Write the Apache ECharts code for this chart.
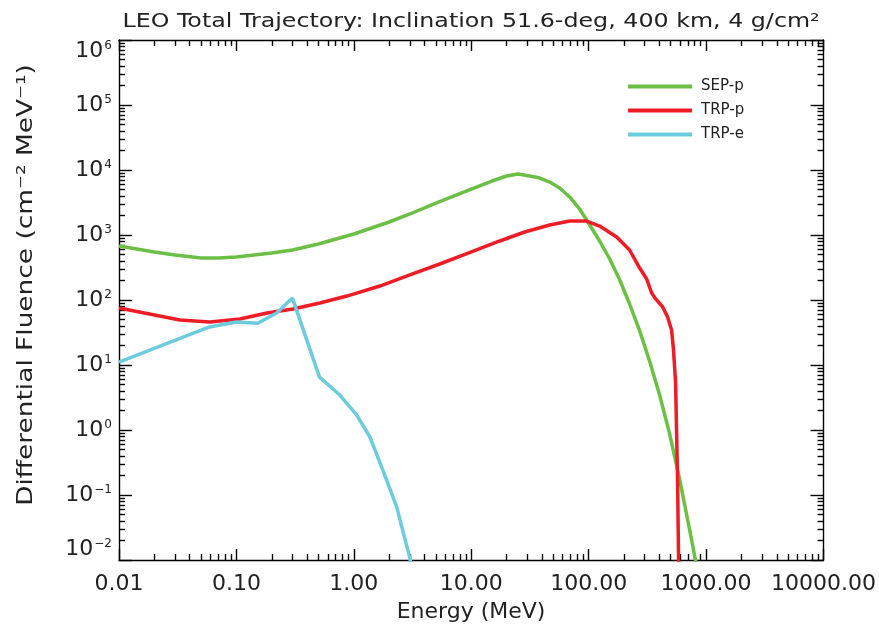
<!DOCTYPE html>
<html><head><meta charset="utf-8">
<script src="https://cdn.jsdelivr.net/npm/echarts@6/dist/echarts.min.js"></script>
<style>html,body{margin:0;padding:0;background:#fff}#c{width:879px;height:628px}</style>
</head><body><div id="c"></div>
<script>
// ---- data ----
const sepE = [0.01,0.02,0.03,0.05,0.07,0.1,0.2,0.3,0.5,1,2,3,5,10,15,20,25,31.5,38.3,46.6,56.6,68.9,83.8,102,124,151,184,223,272,330,402,489,595,724,847];
const sepF = [677,547,492,443,443,459,528,588,727,1035,1585,2105,3105,5100,6770,8090,8670,8090,7530,6530,5290,3850,2510,1425,809,427,203,86.8,33.4,11.5,3.45,0.87,0.176,0.029,0.0068];

const trpPE = [0.01,0.033,0.0595,0.107,0.182,0.303,0.514,0.872,1.665,3.0,5.39,9.9,17.5,28.5,46.6,68.9,96.2,124,173,223,272,312,344,372,427,470,508,528,550,561,572,583,595];
const trpPF = [75.3,49.2,45.9,51.0,63.1,72.7,89.9,115,164,243,358,547,809,1112,1425,1641,1641,1375,931,588,310,210,128,104,78,54.7,34.5,17.0,5.28,0.899,0.153,0.01,0.0049];

const trpEE = [0.01,0.059,0.10,0.152,0.22,0.30,0.51,0.76,1.06,1.37,1.77,2.32,3.0,3.2];
const trpEF = [11.1,38.5,46,44,63,107,6.5,3.45,1.7,0.78,0.24,0.065,0.0107,0.005];

const seriesNames = ['SEP-p','TRP-p','TRP-e'];
const xDecades = [-2,-1,0,1,2,3,4];        // major ticks (log10 of energy)
const yDecades = [-2,-1,0,1,2,3,4,5,6];    // major ticks (log10 of fluence)
const titleText = 'LEO Total Trajectory: Inclination 51.6-deg, 400 km, 4 g/cm\u00B2';
const xName = 'Energy (MeV)';
const yName = 'Differential Fluence (cm\u207B\u00B2 MeV\u207B\u00B9)';

// ---- helpers ----
function pairs(xs, ys){ return xs.map((x,i)=>[x, ys[i]]); }
function minorLogs(decs){ const out=[]; decs.slice(0,-1).forEach(d=>{ for(let k=2;k<=9;k++) out.push(d+Math.log10(k)); }); return out; }
const xMinor = minorLogs(xDecades);
const yMinor = minorLogs(yDecades);

const FONT = 'DejaVu Sans';
const TXT = '#222';
const AX = {color:'#000', width:1.4};
const colors = ['#6cbf45','#ee1c25','#6ccbdc'];

// decorative tick axes (in log10 space) on each side of the frame
function tickAxis(pos, lo, hi, vals, len, showLine){
  return {type:'value', min:lo, max:hi, position:pos,
    axisLine:{show:showLine, onZero:false, lineStyle:AX},
    axisTick:{show:true, inside:true, length:len, lineStyle:AX, customValues:vals},
    axisLabel:{show:false}, splitLine:{show:false}};
}

const chart = echarts.init(document.getElementById('c'), null, {renderer:'canvas'});
chart.setOption({
  animation:false,
  backgroundColor:'#fff',
  grid:{left:119, right:55, top:40, bottom:68, containLabel:false},
  legend:{
    orient:'vertical', left:623, top:74, itemWidth:64, itemHeight:4, itemGap:9,
    icon:'rect', data:seriesNames,
    textStyle:{fontFamily:FONT, fontSize:15, color:TXT, lineHeight:15, padding:[0,0,0,4]}
  },
  xAxis:[
    {type:'log', logBase:10, min:0.01, max:10000, interval:1, position:'bottom',
     axisLine:{show:true, onZero:false, lineStyle:AX}, axisTick:{show:false},
     axisLabel:{margin:13, fontSize:22, fontFamily:FONT, color:TXT, formatter:v=>Number(v).toFixed(2)},
     splitLine:{show:false}},
    tickAxis('bottom', -2, 4, xDecades, 11, false),
    tickAxis('bottom', -2, 4, xMinor, 6, false),
    tickAxis('top', -2, 4, xDecades, 11, true),
    tickAxis('top', -2, 4, xMinor, 6, false)
  ],
  yAxis:[
    {type:'log', logBase:10, min:0.01, max:1e6, interval:1, position:'left',
     axisLine:{show:true, onZero:false, lineStyle:AX}, axisTick:{show:false},
     axisLabel:{margin:7, fontFamily:FONT, color:TXT,
       verticalAlignMaxLabel:'top', verticalAlignMinLabel:'bottom',
       formatter:v=>{const e=Math.round(Math.log10(v)); return '{a|10}{b|'+(e<0?'\u2212'+(-e):e)+'}';},
       rich:{a:{fontSize:22, lineHeight:22, fontFamily:FONT, color:TXT},
             b:{fontSize:12, verticalAlign:'top', lineHeight:14, fontFamily:FONT, color:TXT, padding:[0,0,0,1]}}},
     splitLine:{show:false}},
    tickAxis('left', -2, 6, yDecades, 13, false),
    tickAxis('left', -2, 6, yMinor, 6, false),
    tickAxis('right', -2, 6, yDecades, 13, true),
    tickAxis('right', -2, 6, yMinor, 6, false)
  ],
  series:[
    {name:seriesNames[0], type:'line', data:pairs(sepE,sepF), xAxisIndex:0, yAxisIndex:0, showSymbol:false, symbol:'none', lineStyle:{width:3.5, color:colors[0]}, itemStyle:{color:colors[0]}, clip:true},
    {name:seriesNames[1], type:'line', data:pairs(trpPE,trpPF), xAxisIndex:0, yAxisIndex:0, showSymbol:false, symbol:'none', lineStyle:{width:3.5, color:colors[1]}, itemStyle:{color:colors[1]}, clip:true},
    {name:seriesNames[2], type:'line', data:pairs(trpEE,trpEF), xAxisIndex:0, yAxisIndex:0, showSymbol:false, symbol:'none', lineStyle:{width:3.5, color:colors[2]}, itemStyle:{color:colors[2]}, clip:true}
  ],
  graphic:[
    {type:'text', x:471, y:22, scaleX:1.25, style:{text:titleText, fontFamily:FONT, fontSize:19, fill:TXT, textAlign:'center', textVerticalAlign:'middle'}},
    {type:'text', x:471, y:612, style:{text:xName, fontFamily:FONT, fontSize:22, fill:TXT, textAlign:'center', textVerticalAlign:'middle'}},
    {type:'text', x:26, y:285, rotation:Math.PI/2, scaleX:1.2, style:{text:yName, fontFamily:FONT, fontSize:22, fill:TXT, textAlign:'center', textVerticalAlign:'middle'}}
  ]
});
</script>
</body></html>
